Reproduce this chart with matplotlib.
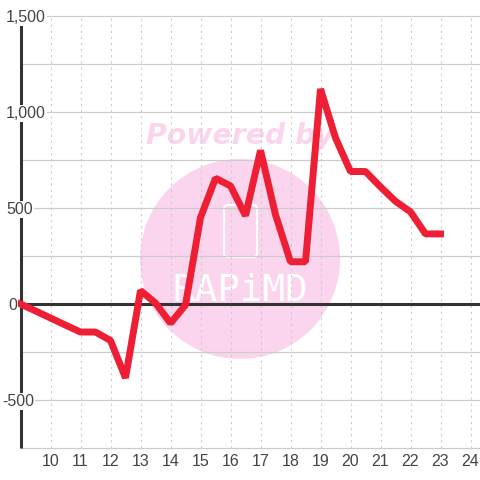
import matplotlib
matplotlib.use("Agg")
import matplotlib.pyplot as plt
from matplotlib.patches import Circle, FancyBboxPatch

# ============================
# DATA
# ============================
x_vals = [9, 9.5, 10, 10.5, 11, 11.5, 12, 12.5, 13, 13.5, 14, 14.5, 15, 15.5, 16,
          16.5, 17, 17.5, 18, 18.5, 19, 19.5, 20, 20.5, 21, 21.5, 22, 22.5, 23]
y_vals = [0, -36, -73, -110, -146, -146, -190, -385, 70, 5, -100, -5, 450, 655, 615,
          460, 800, 465, 220, 220, 1120, 865, 690, 690, 610, 535, 480, 365, 365]
x_ticks = list(range(10, 25))
y_major = [-500, 0, 500, 1000, 1500]
y_labels = ["-500", "0", "500", "1,000", "1,500"]
y_minor = [-750, -250, 250, 750, 1250]

PX = 0.72  # points per pixel at dpi 100

# ============================
# PLOT
# ============================
fig = plt.figure(figsize=(4.8, 4.8), dpi=100)
ax = fig.add_axes([0, 0, 1, 1])
# full-figure axes, scaled so 30 px = 1 x unit and 96 px = 500 y units
ax.set_xlim(9 - 20.5 / 30, 9 + 459.5 / 30)
ax.set_ylim(-500 - 80 * 500 / 96, 1500 + 16 * 500 / 96)
ax.axis("off")
ax.patch.set_visible(False)
ax.set_zorder(1)

grid_c = "#cccccc"
for v in y_major + y_minor:
    ax.plot([9, ax.get_xlim()[1]], [v, v], color=grid_c, lw=0.9, zorder=1)
for v in x_ticks:
    ax.plot([v, v], [-750, 1500], color=grid_c, lw=0.8, ls=(0, (2, 3.5)), zorder=1)

# watermark, in pixel coordinates
pink = "#fbd5ee"
ax_w = fig.add_axes([0, 0, 1, 1], zorder=0.5)
ax_w.set_xlim(0, 480)
ax_w.set_ylim(480, 0)
ax_w.axis("off")
ax_w.add_patch(Circle((240, 259), 100, color=pink, lw=0))
ax_w.text(240, 136, "Powered by", color=pink, fontsize=20.4, fontweight="bold",
          style="italic", ha="center", va="center", family="DejaVu Sans")
ax_w.add_patch(FancyBboxPatch((224, 205), 33, 52, boxstyle="round,pad=0,rounding_size=4",
                              fc="none", ec="white", lw=1.5))
ax_w.text(240, 291, "RAPiMD", color="white", fontsize=27, ha="center", va="center",
          family="DejaVu Sans Mono")

# axes
ax.plot([9, 9], [-750, 1500 - 8 * 500 / 96], color="#333333", lw=2.2, zorder=3,
        solid_capstyle="butt")
ax.plot([9, ax.get_xlim()[1]], [0, 0], color="#333333", lw=2.2, zorder=3,
        solid_capstyle="butt")

ax.plot(x_vals, y_vals, color="#ee1e34", lw=5, zorder=4, solid_joinstyle="bevel",
        solid_capstyle="projecting")

# tick labels
txt_c = "#444444"
label_left = {"-500": 2, "0": 8, "500": 6, "1,000": 6, "1,500": 6}
for v, lab in zip(y_major, y_labels):
    ax.annotate(lab, xy=(9, v), xytext=((label_left[lab] - 20.5) * PX, -6 * PX),
                textcoords="offset points", color=txt_c, fontsize=11.5,
                ha="left", va="baseline", family="Liberation Sans", zorder=5,
                bbox=dict(fc="white", ec="none", pad=0.8))
for v in x_ticks:
    ax.annotate(str(v), xy=(v, -750), xytext=(0, -18.5 * PX), textcoords="offset points",
                color=txt_c, fontsize=11.5, ha="center", va="baseline",
                family="Liberation Sans", zorder=5)

fig.savefig("out.png", dpi=100)
